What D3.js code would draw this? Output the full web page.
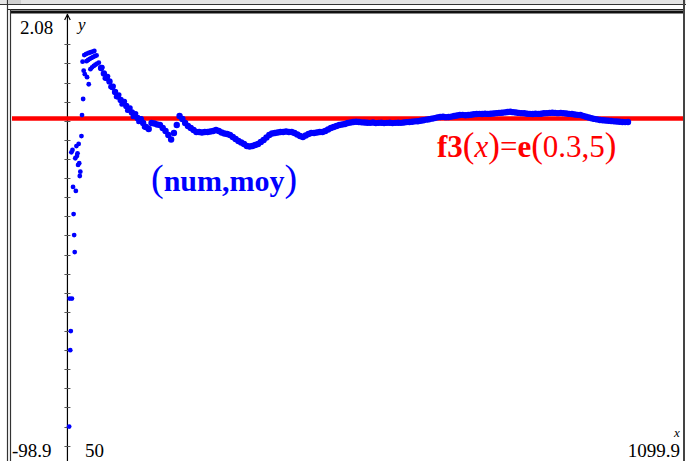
<!DOCTYPE html>
<html><head><meta charset="utf-8">
<script src="https://cdn.jsdelivr.net/npm/d3@7/dist/d3.min.js"></script>
<style>html,body{margin:0;padding:0;background:#fff;overflow:hidden}</style>
</head><body>
<svg id="c" width="686" height="461"></svg>
<script>
// ---- data ----
const xWindow = [-98.9, 1099.9];
const yWindow = [1.48, 2.08];
const f3Value = 1.928;

const earlyNum = [3,4,5,6,7,8,9,10,11,12,13,14,15,16,17,18,19,20,21,22,23,25,26,27,28,29,30,31,33,34,35,36,37,38,39,40,41,42,43,44,45,46,47,48,49,50,52,53,56];
const earlyMoy = [1.525,1.6925,1.625,1.65,1.8838,1.6925,1.8868,1.8385,1.803,1.7755,1.7533,1.876,1.8333,1.892,1.879,1.8825,1.8673,1.8948,1.8695,1.8528,1.8585,1.905,1.9325,2.0023,1.9535,1.9905,2.011,1.986,2.0123,2.003,1.982,2.0133,2.0045,1.9728,2.014,2.006,1.9925,2.0148,2.0073,1.995,2.0155,2.0085,1.9968,2.0163,2.0095,1.9983,2.0105,1.9998,2.001];

// scattered points of the steep descent (the band is wide there)
const descentNum = [62,67,72,77,82,87,92,97,102,107,112,117,122,127,132,137];
const descentMoy = [1.9951,1.9806,1.9832,1.9695,1.9706,1.9563,1.959,1.9466,1.9507,1.9385,1.9422,1.9302,1.9346,1.9238,1.9279,1.917];

const bandStart = 60, bandStep = 5;
const bandMoy = [
1.9940,1.9869,1.9810,1.9764,1.9692,1.9627,1.9568,1.9522,1.9483,1.9443,
1.9398,1.9358,1.9319,1.9286,1.9267,1.9221,1.9169,1.9143,1.9221,1.9214,
1.9201,1.9195,1.9156,1.9116,1.9064,1.9005,1.9090,1.9195,1.9313,1.9273,
1.9221,1.9182,1.9156,1.9129,1.9103,1.9103,1.9097,1.9103,1.9103,1.9110,
1.9116,1.9129,1.9116,1.9097,1.9084,1.9077,1.9064,1.9038,1.9012,1.8985,
1.8966,1.8946,1.8920,1.8914,1.8920,1.8933,1.8946,1.8972,1.8999,1.9031,
1.9064,1.9084,1.9090,1.9097,1.9103,1.9103,1.9110,1.9103,1.9103,1.9090,
1.9071,1.9051,1.9038,1.9058,1.9077,1.9090,1.9090,1.9097,1.9103,1.9103,
1.9116,1.9136,1.9156,1.9169,1.9182,1.9195,1.9201,1.9208,1.9221,1.9227,
1.9234,1.9238,1.9235,1.923,1.9228,1.9225,1.9223,1.9228,1.922,1.9223,
1.9225,1.922,1.9223,1.9225,1.922,1.9223,1.9225,1.9223,1.9228,1.9233,
1.9235,1.9238,1.9243,1.9245,1.925,1.9258,1.9265,1.927,1.9278,1.9285,
1.9295,1.93,1.9303,1.9298,1.93,1.9305,1.9313,1.932,1.9325,1.9328,
1.9323,1.9325,1.933,1.9335,1.9338,1.934,1.9338,1.9343,1.934,1.9343,
1.9345,1.935,1.9353,1.9355,1.936,1.9365,1.9368,1.9363,1.9358,1.9353,
1.935,1.9348,1.9343,1.934,1.9338,1.9343,1.934,1.9343,1.9348,1.935,
1.9353,1.9355,1.9353,1.935,1.9353,1.935,1.9345,1.934,1.9338,1.9333,
1.9328,1.9325,1.9315,1.9303,1.9293,1.9283,1.9275,1.9268,1.926,1.9258,
1.9253,1.925,1.9248,1.9243,1.924,1.9238,1.9235,1.9233,1.9235];

const labels = {ymax:"2.08", xmin:"-98.9", ymin:"50", xmax:"1099.9"};

// ---- build ----
const points = earlyNum.map((n,i)=>({num:n, moy:earlyMoy[i], r:2.4}))
  .concat(descentNum.map((n,i)=>({num:n, moy:descentMoy[i], r:2.5})))
  .concat(bandMoy.map((m,i)=>({num:bandStart+i*bandStep, moy:m, r:3.2})));

const svg = d3.select("#c");
const x = d3.scaleLinear().domain(xWindow).range([12, 684]);
const y = d3.scaleLinear().domain(yWindow).range([461, 2.3]);

// frame / toolbar
svg.append("rect").attr("x",0).attr("y",0).attr("width",686).attr("height",461).attr("fill","#fff");
svg.append("rect").attr("x",0).attr("y",0).attr("width",686).attr("height",4).attr("fill","#e4e4e4");
svg.append("rect").attr("x",9).attr("y",0).attr("width",12).attr("height",4).attr("fill","#cfcfcf");
svg.append("line").attr("x1",0).attr("x2",686).attr("y1",4.5).attr("y2",4.5).attr("stroke","#333").attr("stroke-width",1);
svg.append("line").attr("x1",8).attr("x2",685).attr("y1",9.5).attr("y2",9.5).attr("stroke","#222").attr("stroke-width",1);
svg.append("rect").attr("x",10).attr("y",10.5).attr("width",675).attr("height",3).attr("fill","#111");

const plot = svg.append("g");
plot.append("clipPath").attr("id","clip").append("rect").attr("x",11).attr("y",13.5).attr("width",672).attr("height",448);
const g = plot.append("g").attr("clip-path","url(#clip)");

// y axis
const x0 = x(0);
g.append("line").attr("x1",x0).attr("x2",x0).attr("y1",14).attr("y2",461).attr("stroke","#000").attr("stroke-width",1.2);
g.append("path").attr("d",`M${x0-2.8},${20} L${x0},${14.5} L${x0+2.8},${20}`).attr("fill","none").attr("stroke","#000").attr("stroke-width",1.2);
const yTicks = d3.range(1.5, 2.03, 0.025);
g.selectAll(".yt").data(yTicks).enter().append("line")
  .attr("x1",x0-3).attr("x2",x0+3).attr("y1",d=>Math.round(y(d))+0.5).attr("y2",d=>Math.round(y(d))+0.5)
  .attr("stroke","#555").attr("stroke-width",1);

// red function line
g.append("line").attr("x1",x(xWindow[0])).attr("x2",x(xWindow[1])).attr("y1",y(f3Value)).attr("y2",y(f3Value))
  .attr("stroke","#ff0000").attr("stroke-width",4.5);

// points
g.selectAll(".pt").data(points).enter().append("circle")
  .attr("cx",d=>x(d.num)).attr("cy",d=>y(d.moy)).attr("r",d=>d.r).attr("fill","#0000ff");

// side borders
svg.append("line").attr("x1",7.5).attr("x2",7.5).attr("y1",0).attr("y2",461).attr("stroke","#333").attr("stroke-width",1.2);
svg.append("line").attr("x1",10.5).attr("x2",10.5).attr("y1",9).attr("y2",461).attr("stroke","#333").attr("stroke-width",1.2);
svg.append("line").attr("x1",684).attr("x2",684).attr("y1",0).attr("y2",461).attr("stroke","#444").attr("stroke-width",2);

// window labels
const serif = "'Liberation Serif','Times New Roman',serif";
function lab(t,xx,yy,anchor,size,style){
  svg.append("text").attr("x",xx).attr("y",yy).attr("text-anchor",anchor||"start")
    .attr("font-family",serif).attr("font-size",size||19).attr("font-style",style||"normal").attr("fill","#000").text(t);
}
lab(labels.ymax,20,33.5,"start",19);
lab("y",78,30,"start",17,"italic");
lab(labels.xmin,12,457,"start",19);
lab(labels.ymin,85,457,"start",19);
lab(labels.xmax,680,457,"end",19);
lab("x",677,437,"middle",13,"italic");

// (num,moy)
const t1 = svg.append("text").attr("x",151).attr("y",191).attr("font-family",serif).attr("fill","#0000ff");
t1.append("tspan").attr("font-size",38).text("(");
t1.append("tspan").attr("font-size",30).attr("font-weight","bold").text("num,moy");
t1.append("tspan").attr("font-size",38).text(")");

// f3(x)=e(0.3,5)
const t2 = svg.append("text").attr("x",437).attr("y",157).attr("font-family",serif).attr("fill","#ff0000");
t2.append("tspan").attr("font-size",31).attr("font-weight","bold").text("f3");
t2.append("tspan").attr("font-size",35).text("(");
t2.append("tspan").attr("font-size",31).attr("font-style","italic").text("x");
t2.append("tspan").attr("font-size",35).text(")");
t2.append("tspan").attr("font-size",31).text("=");
t2.append("tspan").attr("font-size",31).attr("font-weight","bold").text("e");
t2.append("tspan").attr("font-size",35).text("(");
t2.append("tspan").attr("font-size",31).text("0.3,5");
t2.append("tspan").attr("font-size",35).text(")");
</script>
</body></html>
